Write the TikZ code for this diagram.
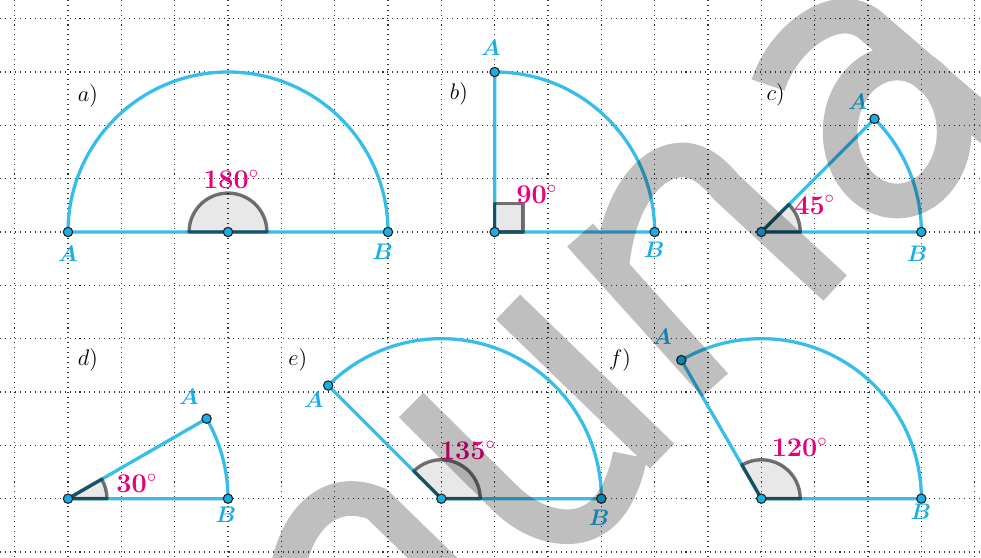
\documentclass[tikz,border=0pt]{standalone}
\usepackage{amsmath}
\usepackage{xcolor}
\usetikzlibrary{positioning}
\definecolor{SkyBlue}{HTML}{36BDEC}
\definecolor{DotBlue}{HTML}{1AAEE6}
\definecolor{AngleMagenta}{HTML}{E6007E}

\begin{document}
\begin{tikzpicture}[
  griddot/.style={line width=0.55pt, dash pattern=on 0.55pt off 2.1pt, color=black!80},
  seg/.style={line width=1.75pt, color=SkyBlue, line join=round},
  anglemark/.style={line width=1.8pt, line join=round, draw=black, draw opacity=0.55, fill=black, fill opacity=0.09},
  ptdot/.style={circle, draw=black!85, line width=0.6pt, fill=DotBlue, inner sep=0pt, minimum size=5pt},
  ptlbl/.style={font=\large, text=DotBlue},
  anglbl/.style={font=\Large, text=AngleMagenta},
  partlbl/.style={font=\large},
  watermark/.style={line width=0.65cm, draw=black, draw opacity=0.25}
]
\useasboundingbox (-0.275,-0.094) rectangle (18.119,10.35);

% grid
\foreach \gx in {0,...,18}
  \draw[griddot] (\gx,-0.094) -- (\gx,10.35);
\foreach \gy in {0,...,10}
  \draw[griddot] (-0.275,\gy) -- (18.119,\gy);

% centres and end points
\coordinate (Oa) at (4,6);
\coordinate (Ob) at (9,6);
\coordinate (Oc) at (14,6);
\coordinate (Od) at (1,1);
\coordinate (Oe) at (8,1);
\coordinate (Of) at (14,1);
\foreach \fig/\ang in {a/180,b/90,c/45,d/30,e/135,f/120}{
  \coordinate (A\fig) at ([shift={(\ang:3)}]O\fig);
  \coordinate (B\fig) at ([shift={(0:3)}]O\fig);
}

% sectors
\foreach \fig/\ang in {a/180,b/90,c/45,d/30,e/135,f/120}
  \draw[seg] (A\fig) -- (O\fig) -- (B\fig) arc[start angle=0, end angle=\ang, radius=3];

% angle marks
\foreach \fig/\ang in {a/180,c/45,d/30,e/135,f/120}
  \draw[anglemark] (O\fig) -- ++(0:0.73) arc[start angle=0, end angle=\ang, radius=0.73] -- cycle;
\draw[anglemark] (Ob) rectangle ++(0.53,0.53);

% points
\foreach \fig in {a,b,c,d,e,f}{
  \node[ptdot] (dO\fig) at (O\fig) {};
  \node[ptdot] (dA\fig) at (A\fig) {};
  \node[ptdot] (dB\fig) at (B\fig) {};
}

% part labels
\node[partlbl] (la) at (1.375,8.55) {$a)$};
\node[partlbl] (lb) at (8.33,8.59) {$b)$};
\node[partlbl] (lc) at (14.27,8.57) {$c)$};
\node[partlbl] (ld) at (1.375,3.60) {$d)$};
\node[partlbl] (le) at (5.31,3.60) {$e)$};
\node[partlbl] (lf) at (11.35,3.60) {$f)$};

% angle values
\node[anglbl] (ta) at (4.06,6.99) {$\mathbf{180}^\circ$};
\node[anglbl] (tb) at (9.79,6.71) {$\mathbf{90}^\circ$};
\node[anglbl] (tc) at (15.0,6.51) {$\mathbf{45}^\circ$};
\node[anglbl] (td) at (2.29,1.29) {$\mathbf{30}^\circ$};
\node[anglbl] (te) at (8.50,1.91) {$\mathbf{135}^\circ$};
\node[anglbl] (tf) at (14.72,1.97) {$\mathbf{120}^\circ$};

% point names
\node[ptlbl] (nAa) at ([shift={(0,-0.41)}]Aa) {$\boldsymbol{A}$};
\node[ptlbl] (nBa) at ([shift={(-0.1,-0.37)}]Ba) {$\boldsymbol{B}$};
\node[ptlbl] (nAb) at ([shift={(-0.07,0.45)}]Ab) {$\boldsymbol{A}$};
\node[ptlbl] (nBb) at ([shift={(-0.01,-0.34)}]Bb) {$\boldsymbol{B}$};
\node[ptlbl] (nAc) at ([shift={(-0.31,0.32)}]Ac) {$\boldsymbol{A}$};
\node[ptlbl] (nBc) at ([shift={(-0.08,-0.41)}]Bc) {$\boldsymbol{B}$};
\node[ptlbl] (nAd) at ([shift={(-0.33,0.41)}]Ad) {$\boldsymbol{A}$};
\node[ptlbl] (nBd) at ([shift={(-0.04,-0.31)}]Bd) {$\boldsymbol{B}$};
\node[ptlbl] (nAe) at ([shift={(-0.27,-0.27)}]Ae) {$\boldsymbol{A}$};
\node[ptlbl] (nBe) at ([shift={(-0.04,-0.36)}]Be) {$\boldsymbol{B}$};
\node[ptlbl] (nAf) at ([shift={(-0.36,0.43)}]Af) {$\boldsymbol{A}$};
\node[ptlbl] (nBf) at ([shift={(-0.01,-0.25)}]Bf) {$\boldsymbol{B}$};

% watermark
\begin{scope}
\clip (-0.275,-0.094) rectangle (18.119,10.35);
\begin{scope}[shift={(-0.275,10.35)}, x=0.01875cm, y=-0.01875cm]
\draw[watermark]
  (287,572) .. controls (298,512) and (335,486) .. (377,504) -- (447,572)
  (411,405) -- (505,498) .. controls (535,528) and (585,542) .. (612,502) .. controls (622,487) and (627,470) .. (630,455)
  (508,307) -- (662,456)
  (580,235) -- (715,385)
  (612,265) .. controls (618,200) and (650,158) .. (685,160) .. controls (705,162) and (718,178) .. (727,188) -- (835,288)
  (768,85) .. controls (782,40) and (835,-3) .. (870,25) -- (1000,137)
  (897,132) ellipse [x radius=57, y radius=69];
\end{scope}
\end{scope}
\end{tikzpicture}
\end{document}
